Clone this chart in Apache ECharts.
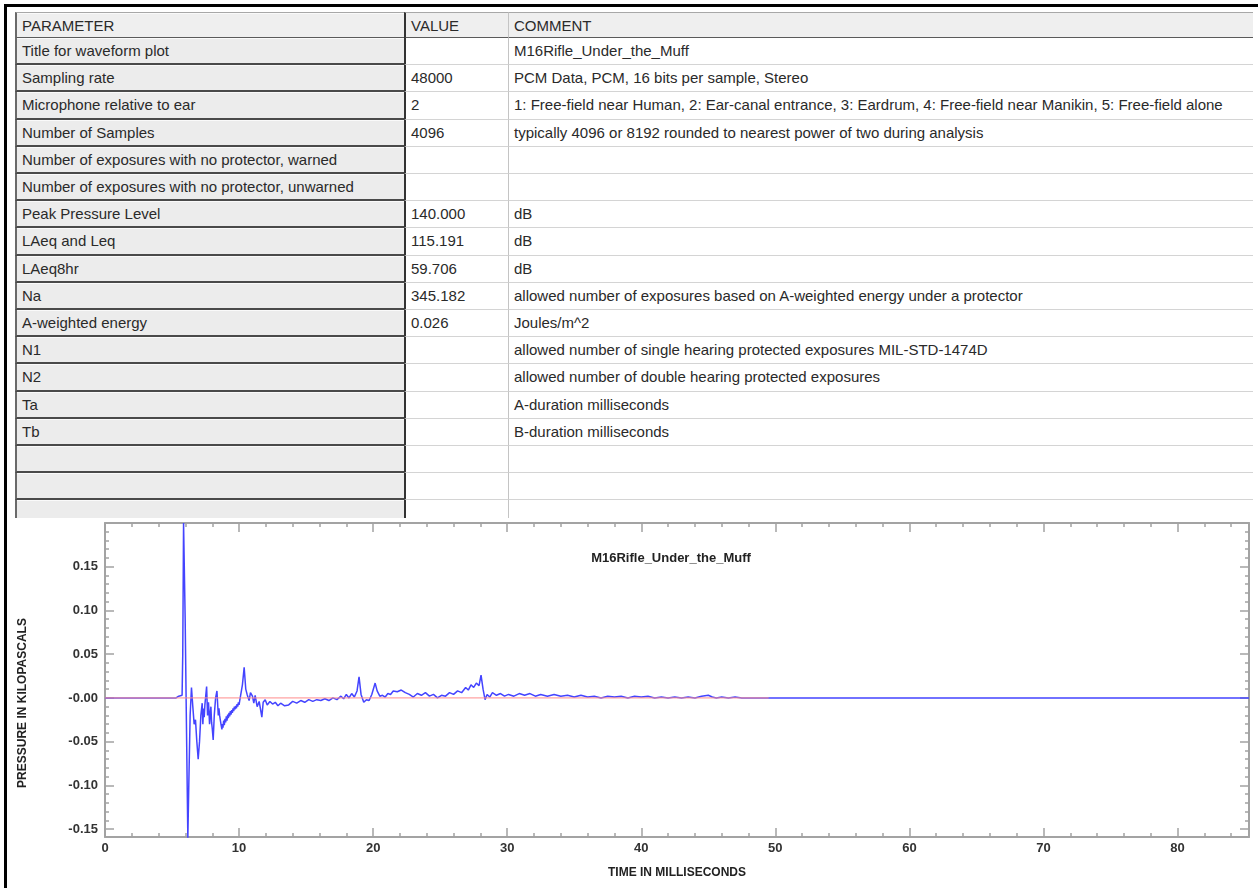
<!DOCTYPE html>
<html><head><meta charset="utf-8">
<script src="https://cdn.jsdelivr.net/npm/echarts@6/dist/echarts.min.js"></script>
<style>
html,body{margin:0;padding:0;background:#fff;width:1258px;height:888px;overflow:hidden;}
#frameTop{position:absolute;left:4px;top:4px;width:1254px;height:3px;background:#000;}
#frameLeft{position:absolute;left:4px;top:4px;width:3px;height:884px;background:#000;}
#tbl{position:absolute;left:0;top:0;width:1258px;height:518px;}
.c{position:absolute;box-sizing:border-box;font-family:"Liberation Sans",Arial,sans-serif;font-size:15px;color:#2a2a2a;white-space:nowrap;overflow:hidden;padding-left:5px;}
.p{background:#ececec;border-left:2px solid #6a6a6a;border-bottom:2px solid #4a4a4a;box-shadow:inset 0 1px 0 #fafafa;}
.v{background:#fff;border-left:2px solid #333;border-bottom:1px solid #d4d4d4;}
.m{background:#fff;border-left:1px solid #c4c4c4;border-bottom:1px solid #d4d4d4;}
.h{background:#efefef;border-top:1px solid #a8a8a8;border-bottom:2px solid #5a5a5a;}
#chart{position:absolute;left:7px;top:518px;width:1251px;height:370px;background:#fff;}
</style></head>
<body>
<div id="tbl"></div>
<div id="chart"></div>
<div id="frameTop"></div>
<div id="frameLeft"></div>
<script>
// ---------- table data ----------
const headers = ['PARAMETER', 'VALUE', 'COMMENT'];
const paramNames = ['Title for waveform plot', 'Sampling rate', 'Microphone relative to ear', 'Number of Samples',
  'Number of exposures with no protector, warned', 'Number of exposures with no protector, unwarned',
  'Peak Pressure Level', 'LAeq and Leq', 'LAeq8hr', 'Na', 'A-weighted energy', 'N1', 'N2', 'Ta', 'Tb', '', '', ''];
const paramValues = ['', '48000', '2', '4096', '', '', '140.000', '115.191', '59.706', '345.182', '0.026', '', '', '', '', '', '', ''];
const paramComments = ['M16Rifle_Under_the_Muff', 'PCM Data, PCM, 16 bits per sample, Stereo',
  '1: Free-field near Human, 2: Ear-canal entrance, 3: Eardrum, 4: Free-field near Manikin, 5: Free-field alone',
  'typically 4096 or 8192 rounded to nearest power of two during analysis', '', '', 'dB', 'dB', 'dB',
  'allowed number of exposures based on A-weighted energy under a protector', 'Joules/m^2',
  'allowed number of single hearing protected exposures MIL-STD-1474D',
  'allowed number of double hearing protected exposures', 'A-duration milliseconds', 'B-duration milliseconds', '', '', ''];

// ---------- chart data ----------
const chartTitle = 'M16Rifle_Under_the_Muff';
const xAxisName = 'TIME IN MILLISECONDS';
const yAxisName = 'PRESSURE IN KILOPASCALS';
const xMin = 0, xMax = 85.333;
const yMin = -0.159, yMax = 0.2;
const xMajorTicks = [0, 10, 20, 30, 40, 50, 60, 70, 80];
const xTickLabels = ['0', '10', '20', '30', '40', '50', '60', '70', '80'];
const xMinorTicks = [2, 4, 6, 8, 12, 14, 16, 18, 22, 24, 26, 28, 32, 34, 36, 38, 42, 44, 46, 48,
  52, 54, 56, 58, 62, 64, 66, 68, 72, 74, 76, 78, 82, 84];
const yMajorTicks = [-0.15, -0.10, -0.05, 0, 0.05, 0.10, 0.15];
const yTickLabels = ['-0.15', '-0.10', '-0.05', '-0.00', '0.05', '0.10', '0.15'];
const yMinorTicks = [-0.14, -0.13, -0.12, -0.11, -0.09, -0.08, -0.07, -0.06, -0.04, -0.03, -0.02, -0.01,
  0.01, 0.02, 0.03, 0.04, 0.06, 0.07, 0.08, 0.09, 0.11, 0.12, 0.13, 0.14, 0.16, 0.17, 0.18, 0.19];

const timeMs = [
  0, 5.3, 5.5, 5.75, 5.8, 5.86, 5.93, 5.98, 6.05, 6.18,
  6.25, 6.35, 6.45, 6.55, 6.65, 6.75, 6.85, 6.95, 7.05, 7.15,
  7.25, 7.3, 7.35, 7.4, 7.45, 7.5, 7.58, 7.65, 7.72, 7.8,
  7.85, 7.9, 7.95, 8.0, 8.07, 8.15, 8.25, 8.35, 8.45, 8.5,
  8.55, 8.6, 8.65, 8.72, 8.76, 8.8, 8.85, 8.9, 8.95, 9.0,
  9.05, 9.1, 9.15, 9.2, 9.25, 9.3, 9.35, 9.4, 9.45, 9.5,
  9.55, 9.6, 9.65, 9.7, 9.75, 9.8, 9.85, 9.9, 9.95, 10.0,
  10.05, 10.1, 10.25, 10.38, 10.5, 10.6, 10.75, 10.85, 11.0, 11.1,
  11.2, 11.35, 11.5, 11.7, 11.8, 11.95, 12.1, 12.3, 12.5, 12.7,
  12.9, 13.1, 13.4, 13.7, 14.0, 14.3, 14.6, 14.9, 15.2, 15.5,
  15.8, 16.1, 16.4, 16.7, 17.0, 17.3, 17.6, 17.8, 18.0, 18.2,
  18.4, 18.6, 18.8, 18.95, 19.1, 19.3, 19.5, 19.7, 19.9, 20.15,
  20.3, 20.5, 20.7, 20.9, 21.1, 21.3, 21.5, 21.8, 22.1, 22.4,
  22.7, 23.0, 23.3, 23.6, 23.9, 24.2, 24.5, 24.8, 25.1, 25.4,
  25.7, 26.0, 26.3, 26.6, 26.9, 27.1, 27.3, 27.5, 27.7, 27.9,
  28.05, 28.2, 28.35, 28.5, 28.7, 28.9, 29.2, 29.5, 29.8, 30.1,
  30.5, 30.9, 31.3, 31.7, 32.1, 32.5, 33.0, 33.5, 34.0, 34.5,
  35.0, 35.5, 36.0, 36.5, 37.0, 37.5, 38.0, 38.5, 39.0, 39.5,
  40.0, 40.5, 41.0, 41.5, 42.0, 42.5, 43.0, 43.5, 44.0, 44.5,
  45.0, 45.3, 45.6, 46.0, 46.5, 47.0, 47.5, 48.0, 85.333];
const pressureKPa = [
  0, 0, 0.002, 0.003, 0.05, 0.2, 0.2, 0.09, 0.0, -0.16,
  -0.10, -0.02, 0.012, -0.01, -0.03, -0.025, -0.05, -0.07, -0.05, -0.02,
  -0.006, -0.03, -0.012, -0.022, -0.008, 0.0, 0.013, -0.02, -0.005, -0.03,
  -0.018, -0.01, -0.028, -0.035, -0.048, -0.02, 0.0, 0.008, -0.02, -0.012,
  -0.02, -0.025, -0.03, -0.036, -0.03, -0.034, -0.026, -0.031, -0.024, -0.028,
  -0.021, -0.026, -0.019, -0.023, -0.017, -0.021, -0.015, -0.019, -0.014, -0.017,
  -0.012, -0.015, -0.01, -0.013, -0.009, -0.012, -0.007, -0.01, -0.005, -0.008,
  -0.003, -0.004, 0.015, 0.035, 0.01, 0.004, -0.003, 0.006, 0.002, -0.006,
  0.003, -0.01, -0.004, -0.022, -0.005, -0.002, -0.008, -0.004, -0.007, -0.005,
  -0.009, -0.006, -0.009, -0.008, -0.004, -0.006, -0.003, -0.005, -0.002, -0.004,
  -0.002, -0.003, -0.001, -0.003, 0.0, -0.002, 0.002, -0.001, 0.004, 0.0,
  0.005, 0.001, 0.008, 0.024, 0.004, -0.005, -0.002, -0.003, 0.004, 0.017,
  0.008, 0.002, 0.003, 0.001, 0.005, 0.004, 0.008, 0.007, 0.009, 0.006,
  0.004, 0.001, 0.005, 0.003, 0.006, 0.002, 0.004, 0.0, 0.003, 0.002,
  0.006, 0.004, 0.008, 0.006, 0.012, 0.009, 0.015, 0.012, 0.017, 0.014,
  0.026, 0.01, -0.002, 0.004, 0.001, 0.006, 0.003, 0.005, 0.002, 0.004,
  0.002, 0.005, 0.003, 0.005, 0.002, 0.004, 0.002, 0.004, 0.002, 0.003,
  0.001, 0.003, 0.001, 0.002, 0.0, 0.002, 0.001, 0.002, 0.0, 0.002,
  0.001, 0.002, 0.0, 0.001, 0.0, 0.001, 0.0, 0.001, 0.0, 0.002,
  0.003, 0.001, 0.0, 0.001, 0.0, 0.001, 0.0, 0.0, 0];
const zeroRefMs = [0, 49.5];
const zeroRefKPa = [0, 0];

// ---------- build table ----------
const tbl = document.getElementById('tbl');
function cell(cls, left, top, width, height, text) {
  const d = document.createElement('div');
  d.className = 'c ' + cls;
  d.style.left = left + 'px'; d.style.top = top + 'px';
  d.style.width = width + 'px'; d.style.height = height + 'px';
  d.style.lineHeight = (height - 2) + 'px';
  d.textContent = text;
  tbl.appendChild(d);
}
const colX = [15, 404, 508, 1253];
cell('p h', colX[0], 12, colX[1] - colX[0], 27, headers[0]);
cell('v h', colX[1], 12, colX[2] - colX[1], 27, headers[1]);
cell('m h', colX[2], 12, colX[3] - colX[2], 27, headers[2]);
for (let i = 0; i < paramNames.length; i++) {
  const top = Math.round(38 + i * 27.2);
  const next = Math.round(38 + (i + 1) * 27.2);
  const h = next - top;
  cell('p', colX[0], top, colX[1] - colX[0], h, paramNames[i]);
  cell('v', colX[1], top, colX[2] - colX[1], h, paramValues[i]);
  cell('m', colX[2], top, colX[3] - colX[2], h, paramComments[i]);
}

// ---------- chart ----------
const chart = echarts.init(document.getElementById('chart'), null, {renderer: 'canvas'});
const axisGrey = '#a3a3a3';
const labelStyle = {fontFamily: 'Liberation Sans, Arial', fontWeight: 'bold', fontSize: 13, color: '#333'};

function xAx(position, ticks, len, withLine, withLabels) {
  return {
    type: 'value', position: position, min: xMin, max: xMax,
    axisLine: {show: withLine, onZero: false, lineStyle: {color: axisGrey, width: 2}},
    axisTick: {show: true, inside: true, length: len, customValues: ticks, lineStyle: {color: axisGrey, width: 1.5}},
    axisLabel: withLabels ? Object.assign({show: true, margin: 5, customValues: xMajorTicks,
      formatter: v => xTickLabels[xMajorTicks.findIndex(t => Math.abs(t - v) < 1e-9)]}, labelStyle) : {show: false},
    splitLine: {show: false}
  };
}
function yAx(position, ticks, len, withLine, withLabels) {
  return {
    type: 'value', position: position, min: yMin, max: yMax,
    axisLine: {show: withLine, onZero: false, lineStyle: {color: axisGrey, width: 2}},
    axisTick: {show: true, inside: true, length: len, customValues: ticks, lineStyle: {color: axisGrey, width: 1.5}},
    axisLabel: withLabels ? Object.assign({show: true, margin: 7, customValues: yMajorTicks,
      formatter: v => yTickLabels[yMajorTicks.findIndex(t => Math.abs(t - v) < 1e-9)]}, labelStyle) : {show: false},
    splitLine: {show: false}
  };
}

const xMain = xAx('bottom', xMajorTicks, 9, true, true);
xMain.name = xAxisName;
xMain.nameLocation = 'middle';
xMain.nameGap = 30;
xMain.nameTextStyle = {fontFamily: 'Liberation Sans, Arial', fontWeight: 'bold', fontSize: 12, color: '#222'};
const yMainAx = yAx('left', yMajorTicks, 9, true, true);
yMainAx.name = yAxisName;
yMainAx.nameLocation = 'middle';
yMainAx.nameGap = 76;
yMainAx.nameRotate = 90;
yMainAx.nameTextStyle = {fontFamily: 'Liberation Sans, Arial', fontWeight: 'bold', fontSize: 12, color: '#222', padding: [0, 46, 0, 0]};

chart.setOption({
  animation: false,
  backgroundColor: '#fff',
  title: {
    text: chartTitle, left: 664, top: 34, textAlign: 'center', padding: 0,
    textStyle: {fontFamily: 'Liberation Sans, Arial', fontWeight: 'bold', fontSize: 13, color: '#222'}
  },
  grid: {left: 98, right: 9, top: 5, bottom: 51, containLabel: false},
  xAxis: [
    xMain,
    xAx('bottom', xMinorTicks, 4, false, false),
    xAx('top', xMajorTicks, 9, true, false),
    xAx('top', xMinorTicks, 4, false, false)
  ],
  yAxis: [
    yMainAx,
    yAx('left', yMinorTicks, 4, false, false),
    yAx('right', yMajorTicks, 9, true, false),
    yAx('right', yMinorTicks, 4, false, false)
  ],
  series: [
    {
      type: 'line', xAxisIndex: 0, yAxisIndex: 0, showSymbol: false, clip: true,
      data: timeMs.map((t, i) => [t, pressureKPa[i]]),
      lineStyle: {color: '#4444ff', width: 1.5}, z: 2
    },
    {
      type: 'line', xAxisIndex: 0, yAxisIndex: 0, showSymbol: false, clip: true,
      data: zeroRefMs.map((t, i) => [t, zeroRefKPa[i]]),
      lineStyle: {color: '#ff8c8c', width: 1}, z: 3
    }
  ]
});
</script>
</body></html>
